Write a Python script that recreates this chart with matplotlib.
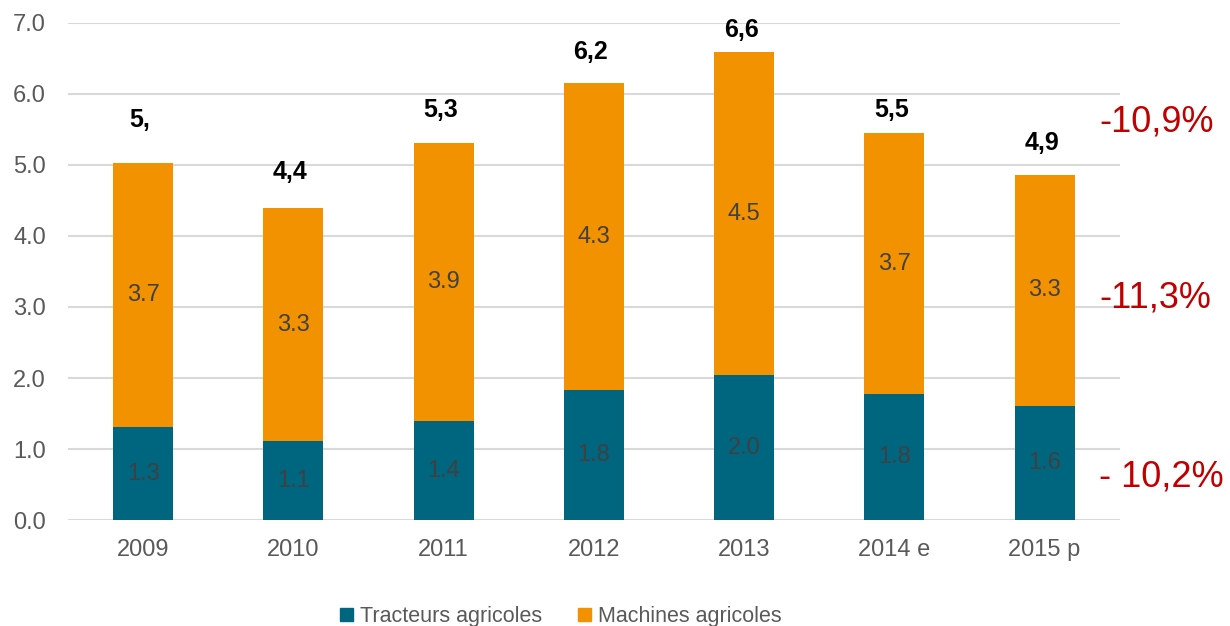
import numpy as np
import matplotlib.pyplot as plt
from matplotlib.patches import Patch

annees = ['2009', '2010', '2011', '2012', '2013', '2014 e', '2015 p']
tracteurs = [1.31, 1.11, 1.39, 1.83, 2.04, 1.77, 1.61]
machines = [3.72, 3.28, 3.92, 4.32, 4.55, 3.68, 3.25]
lbl_tracteurs = ['1.3', '1.1', '1.4', '1.8', '2.0', '1.8', '1.6']
lbl_machines = ['3.7', '3.3', '3.9', '4.3', '4.5', '3.7', '3.3']
lbl_total = ['5,', '4,4', '5,3', '6,2', '6,6', '5,5', '4,9']
evolutions = ['-10,9%', '-11,3%', '- 10,2%']
evol_y = [5.6, 3.13, 0.6]

bleu = '#00657F'
orange = '#F39200'
gris = '#595959'

plt.rcParams['font.family'] = ['Liberation Sans', 'DejaVu Sans']

fig = plt.figure(figsize=(12.3, 6.26), dpi=100)
ax = fig.add_axes([0.0553, 0.1693, 0.855, 0.794])

x = np.arange(len(annees))
w = 0.4
ax.bar(x, tracteurs, w, color=bleu, zorder=3)
ax.bar(x, machines, w, bottom=tracteurs, color=orange, zorder=3)

# ecart des totaux au-dessus des barres
ecart = [0.6, 0.51, 0.46, 0.44, 0.31, 0.32, 0.45]
for i in range(len(annees)):
    ax.text(x[i], tracteurs[i] / 2, lbl_tracteurs[i], ha='center', va='center',
            fontsize=17, color='#404040', zorder=4)
    ax.text(x[i], tracteurs[i] + machines[i] / 2, lbl_machines[i], ha='center', va='center',
            fontsize=17, color='#404040', zorder=4)
    ax.text(x[i] - 0.02, tracteurs[i] + machines[i] + ecart[i], lbl_total[i], ha='center',
            va='center', fontsize=18, fontweight='bold', color='black', zorder=4)

for t, y in zip(evolutions, evol_y):
    fig.text(1099 / 1230, 0.1693 + 0.794 * y / 7, t, ha='left', va='center',
             fontsize=26, color='#C00000')

ax.set_xlim(-0.5, 6.5)
ax.set_ylim(0, 7)
ax.set_yticks(np.arange(0, 7.1, 1.0))
ax.set_yticklabels(['%.1f' % v for v in np.arange(0, 7.1, 1.0)])
ax.set_xticks(x)
ax.set_xticklabels(annees)
ax.tick_params(axis='both', length=0, labelsize=17, labelcolor=gris)
ax.tick_params(axis='y', pad=16)
ax.tick_params(axis='x', pad=14)
ax.yaxis.grid(True, color='#D9D9D9', linewidth=1.5, zorder=0)
for s in ax.spines.values():
    s.set_visible(False)

handles = [Patch(color=bleu, label='Tracteurs agricoles'),
           Patch(color=orange, label='Machines agricoles')]
leg = fig.legend(handles=handles, loc='center', bbox_to_anchor=(0.456, 0.015), ncol=2,
                 frameon=False, fontsize=15.5, handlelength=0.6, handleheight=0.6,
                 handletextpad=0.3, columnspacing=1.7)
for t in leg.get_texts():
    t.set_color(gris)

fig.savefig('out.png', dpi=100)
